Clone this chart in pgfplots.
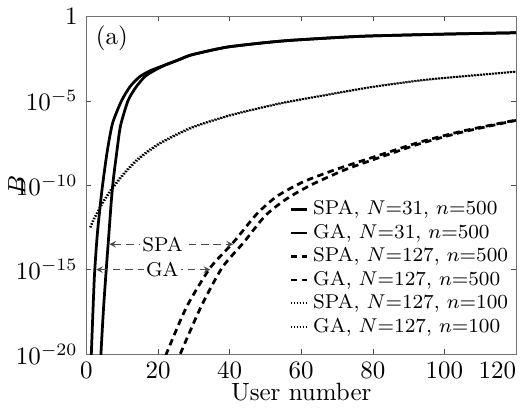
\documentclass[border=0pt]{standalone}
\usepackage{pgfplots}
\pgfplotsset{compat=1.18}
\usetikzlibrary{calc}
\begin{document}
\begin{tikzpicture}
  \begin{axis}%
    [
      scale only axis,
      width=172pt,height=135.2pt,
      xmin=0,xmax=120,
      ymode=log,ymin=1e-20,ymax=1,
      xtick={0,20,...,120},
      xticklabels={$0$,$20$,$40$,$60$,$80$,$100$,\llap{$120$}},
      ytick={1e-20,1e-15,1e-10,1e-5,1},
      yticklabels={$10^{-20}$,$10^{-15}$,$10^{-10}$,$10^{-5}$,$1$},
      minor tick num=0,
      yminorticks=false,
      tick align=inside,
      major tick length=2pt,
      axis line style={black!55},
      tick style={black!70},
      xlabel={User number},
      ylabel={$B$},
      xlabel style={at={(axis description cs:0.5,-0.112)},anchor=center},
      ylabel style={at={(axis description cs:-0.162,0.5)},anchor=center},
      legend cell align=left,
      legend style={draw=none,fill=none,font=\footnotesize,
        at={(1,0.03)},anchor=south east,inner sep=1pt,
        row sep=-1.8pt},
      legend image code/.code={\draw[#1] (0pt,0pt) -- (6.5pt,0pt);},
    ]
    % SPA, N=31, n=500
    \addplot[black,line width=1.1pt,smooth,tension=0.4] coordinates{
      (1.2,1e-21) (1.4,1.6e-20) (2.2,3.2e-16) (3.0,1e-13) (3.8,5e-12)
      (4.5,1e-10) (5.8,1e-8) (7.3,4.7e-7) (9.8,1e-5) (12.2,7e-5)
      (14.9,2.7e-4) (18,6.3e-4) (22,1.32e-3) (26,2.8e-3)
      (29,5e-3) (35,1e-2) (40,1.6e-2) (50,2.8e-2) (57,3.8e-2)
      (70,5.6e-2) (79,6.9e-2) (100,8.9e-2) (120,1.07e-1)
    };
    % GA, N=31, n=500
    \addplot[black,line width=1.1pt,smooth,tension=0.4] coordinates{
      (3.9,1e-21) (4.1,1.6e-20) (4.8,6.3e-18) (5.6,1.6e-15) (6.3,1.6e-13)
      (7.0,1.6e-11) (7.6,3.2e-10) (8.5,1e-8) (9.5,3.2e-7) (11.6,1e-5)
      (13.8,6.3e-5) (16.3,2.7e-4) (19,6.3e-4) (22,1.32e-3) (26,2.8e-3)
      (29,5e-3) (35,1e-2) (40,1.6e-2) (50,2.8e-2) (57,3.8e-2)
      (70,5.6e-2) (79,6.9e-2) (100,8.9e-2) (120,1.07e-1)
    };
    % SPA, N=127, n=500
    \addplot[black,line width=1.1pt,dash pattern=on 2.6pt off 1.8pt,smooth,tension=0.4] coordinates{
      (20,5e-22) (22.3,1e-20) (28,6.3e-18) (34.6,1.3e-15) (41,4e-14)
      (47.6,2e-12) (53.2,2.2e-11) (60,1.4e-10) (66,4.5e-10) (72,1.26e-9)
      (80,4.5e-9) (93,3.5e-8) (105,1.6e-7) (120,7.2e-7)
    };
    % GA, N=127, n=500
    \addplot[black,line width=1.1pt,dash pattern=on 2.6pt off 1.8pt,smooth,tension=0.4] coordinates{
      (24,6.3e-22) (26.2,1e-20) (32,6.3e-18) (37.9,1.3e-15) (43.9,4e-14)
      (50,1.6e-12) (56,1.6e-11) (63,1.1e-10) (72,7.9e-10) (80,3.2e-9)
      (93,2.8e-8) (105,1.4e-7) (120,6.9e-7)
    };
    % SPA, N=127, n=100
    \addplot[black,line width=0.8pt,dash pattern=on 0.5pt off 0.7pt,smooth,tension=0.4] coordinates{
      (1,3.2e-13) (2,1e-12) (3,2.5e-12) (4,6.3e-12) (5,1.4e-11) (7,6.3e-11)
      (10,4e-10) (14,3.2e-9) (20,2.8e-8) (29,2.5e-7) (40,1.4e-6)
      (54,7.1e-6) (65,1.9e-5) (79,6.3e-5) (95,1.8e-4) (120,5.4e-4)
    };
    % GA, N=127, n=100
    \addplot[black,line width=0.8pt,dash pattern=on 0.5pt off 0.7pt,smooth,tension=0.4] coordinates{
      (1.2,3.2e-13) (2.2,1e-12) (3.2,2.5e-12) (4.2,6.3e-12) (5.2,1.4e-11) (7.3,6.3e-11)
      (10.3,4e-10) (14.4,3.2e-9) (20.5,2.8e-8) (29.5,2.5e-7) (40.5,1.4e-6)
      (54.5,7.1e-6) (65.5,1.9e-5) (79.5,6.3e-5) (95.5,1.8e-4) (120,5.2e-4)
    };
    \legend{SPA{,} $N$=31{,} $n$=500,
            GA{,} $N$=31{,} $n$=500,
            SPA{,} $N$=127{,} $n$=500,
            GA{,} $N$=127{,} $n$=500,
            SPA{,} $N$=127{,} $n$=100,
            GA{,} $N$=127{,} $n$=100}
    \draw[<->,>=stealth,black!70,densely dashed,very thin]
      (axis cs:6.4,3.16e-14) -- node[pos=0.43,fill=white,text=black,inner sep=1pt,font=\footnotesize]{SPA}
      (axis cs:41,3.16e-14);
    \draw[<->,>=stealth,black!70,densely dashed,very thin]
      (axis cs:2.7,1e-15) -- node[pos=0.58,fill=white,text=black,inner sep=1pt,font=\footnotesize]{GA}
      (axis cs:34.6,1e-15);
    \node[anchor=north west,inner sep=0pt] at (rel axis cs:0.021,0.973) {(a)};
  \end{axis}
  \path (current axis.south west) ++(-34.4pt,-21.6pt)
        rectangle ($(current axis.north east)+(4pt,5.2pt)$);
\end{tikzpicture}
\end{document}
